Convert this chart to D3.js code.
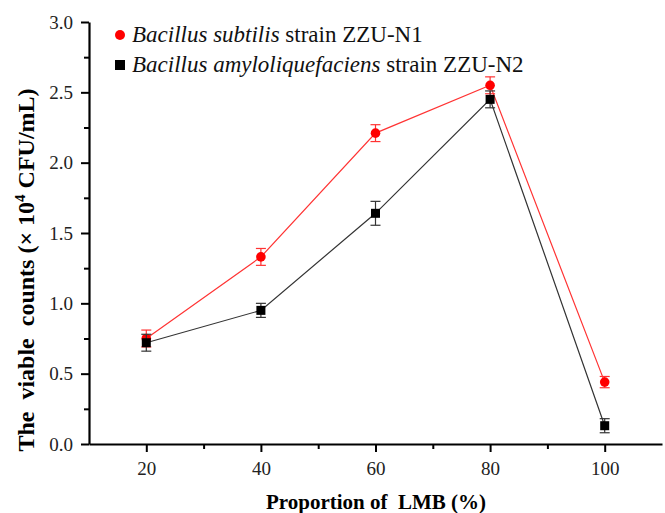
<!DOCTYPE html>
<html>
<head>
<meta charset="utf-8">
<script src="https://cdn.jsdelivr.net/npm/d3@7"></script>
<style>
  body { margin: 0; background: #fff; }
</style>
</head>
<body>
<div id="chart"></div>
<script>
// Data
var proportions = [20, 40, 60, 80, 100];
var subtilisMean = [0.75, 1.33, 2.21, 2.55, 0.44];
var subtilisErr = [0.06, 0.06, 0.06, 0.06, 0.04];
var amyloMean = [0.72, 0.95, 1.64, 2.45, 0.13];
var amyloErr = [0.06, 0.05, 0.085, 0.06, 0.05];
var xTicks = [20, 40, 60, 80, 100];
var yTicks = [0.0, 0.5, 1.0, 1.5, 2.0, 2.5, 3.0];

var serif = "Liberation Serif";

var svgWidth = 665;
var svgHeight = 513;
var margin = { top: 22, right: 3, bottom: 69, left: 89 };
var width = svgWidth - margin.left - margin.right;
var height = svgHeight - margin.top - margin.bottom;

var svg = d3.select("#chart")
  .append("svg")
  .attr("width", svgWidth)
  .attr("height", svgHeight)
  .style("font-family", serif);

var chartGroup = svg.append("g")
  .attr("transform", `translate(${margin.left}, ${margin.top})`);

var xScale = d3.scaleLinear().domain([10, 110]).range([0, width]);
var yScale = d3.scaleLinear().domain([0, 3]).range([height, 0]);

// minor ticks first
chartGroup.append("g")
  .attr("transform", `translate(0, ${height})`)
  .call(d3.axisBottom(xScale).tickValues([30, 50, 70, 90]).tickSize(5).tickFormat(""))
  .call(g => g.select(".domain").remove())
  .selectAll("line").attr("stroke-width", 2);

chartGroup.append("g")
  .call(d3.axisLeft(yScale).tickValues([0.25, 0.75, 1.25, 1.75, 2.25, 2.75]).tickSize(5).tickFormat(""))
  .call(g => g.select(".domain").remove())
  .selectAll("line").attr("stroke-width", 2);

// major axes
var xAxis = chartGroup.append("g")
  .attr("transform", `translate(0, ${height})`)
  .call(d3.axisBottom(xScale).tickValues(xTicks).tickSize(8).tickPadding(10).tickSizeOuter(0));
xAxis.attr("font-family", null);
xAxis.select(".domain").attr("stroke-width", 2.2);
xAxis.selectAll("line").attr("stroke-width", 2);
xAxis.selectAll("text").style("font-family", serif).style("font-size", "19px").attr("fill", "#222");

var yAxis = chartGroup.append("g")
  .call(d3.axisLeft(yScale).tickValues(yTicks).tickSize(8).tickPadding(8).tickSizeOuter(0)
    .tickFormat(d3.format(".1f")));
yAxis.attr("font-family", null);
yAxis.select(".domain").attr("stroke-width", 2.2);
yAxis.selectAll("line").attr("stroke-width", 2);
yAxis.selectAll("text").style("font-family", serif).style("font-size", "19px").attr("fill", "#222");

// axis titles
svg.append("text")
  .attr("x", 376)
  .attr("y", 509)
  .attr("text-anchor", "middle")
  .style("font-family", serif)
  .style("font-size", "21px")
  .style("font-weight", "bold")
  .attr("xml:space", "preserve")
  .text("Proportion of  LMB (%)");

var yTitle = svg.append("text")
  .attr("transform", "translate(34, 270) rotate(-90)")
  .attr("text-anchor", "middle")
  .style("font-family", serif)
  .style("font-size", "24px")
  .style("font-weight", "bold")
  .attr("xml:space", "preserve");
yTitle.append("tspan").text("The  viable  counts (× 10");
yTitle.append("tspan").attr("dy", -9).style("font-size", "15px").text("4");
yTitle.append("tspan").attr("dy", 9).text(" CFU/mL)");

// series
var series = [
  { name: "subtilis", mean: subtilisMean, err: subtilisErr, color: "#ff0000", lineColor: "#ff3333", shape: "circle" },
  { name: "amylo", mean: amyloMean, err: amyloErr, color: "#000000", lineColor: "#333333", shape: "square" }
];

var line = d3.line()
  .x(d => xScale(d.x))
  .y(d => yScale(d.y));

series.forEach(function (s) {
  var pts = proportions.map((p, i) => ({ x: p, y: s.mean[i], e: s.err[i] }));
  chartGroup.append("path")
    .datum(pts)
    .attr("d", line)
    .attr("fill", "none")
    .attr("stroke", s.lineColor)
    .attr("stroke-width", 1.2);
});

series.forEach(function (s) {
  var pts = proportions.map((p, i) => ({ x: p, y: s.mean[i], e: s.err[i] }));
  var g = chartGroup.append("g");
  // error bars
  pts.forEach(function (d) {
    var x = xScale(d.x);
    var y1 = yScale(d.y + d.e);
    var y2 = yScale(d.y - d.e);
    g.append("line").attr("x1", x).attr("x2", x).attr("y1", y1).attr("y2", y2)
      .attr("stroke", s.lineColor).attr("stroke-width", 1.2);
    [y1, y2].forEach(function (yy) {
      g.append("line").attr("x1", x - 5).attr("x2", x + 5).attr("y1", yy).attr("y2", yy)
        .attr("stroke", s.lineColor).attr("stroke-width", 1.2);
    });
  });
  if (s.shape === "circle") {
    g.selectAll("circle").data(pts).enter().append("circle")
      .attr("cx", d => xScale(d.x))
      .attr("cy", d => yScale(d.y))
      .attr("r", 4.8)
      .attr("fill", s.color);
  } else {
    g.selectAll("rect").data(pts).enter().append("rect")
      .attr("x", d => xScale(d.x) - 4.5)
      .attr("y", d => yScale(d.y) - 4.5)
      .attr("width", 9)
      .attr("height", 9)
      .attr("fill", s.color);
  }
});

// legend
var legend = svg.append("g").attr("transform", "translate(120, 35)");
legend.append("circle").attr("cx", 0).attr("cy", 0).attr("r", 5).attr("fill", "#ff0000");
var l1 = legend.append("text").attr("x", 12).attr("y", 7)
  .style("font-family", serif).style("font-size", "23px").attr("fill", "#111");
l1.append("tspan").style("font-style", "italic").text("Bacillus subtilis");
l1.append("tspan").text(" strain ZZU-N1");

legend.append("rect").attr("x", -5).attr("y", 25).attr("width", 10).attr("height", 10).attr("fill", "#000");
var l2 = legend.append("text").attr("x", 12).attr("y", 37)
  .style("font-family", serif).style("font-size", "23px").attr("fill", "#111");
l2.append("tspan").style("font-style", "italic").text("Bacillus amyloliquefaciens");
l2.append("tspan").text(" strain ZZU-N2");
</script>
</body>
</html>
